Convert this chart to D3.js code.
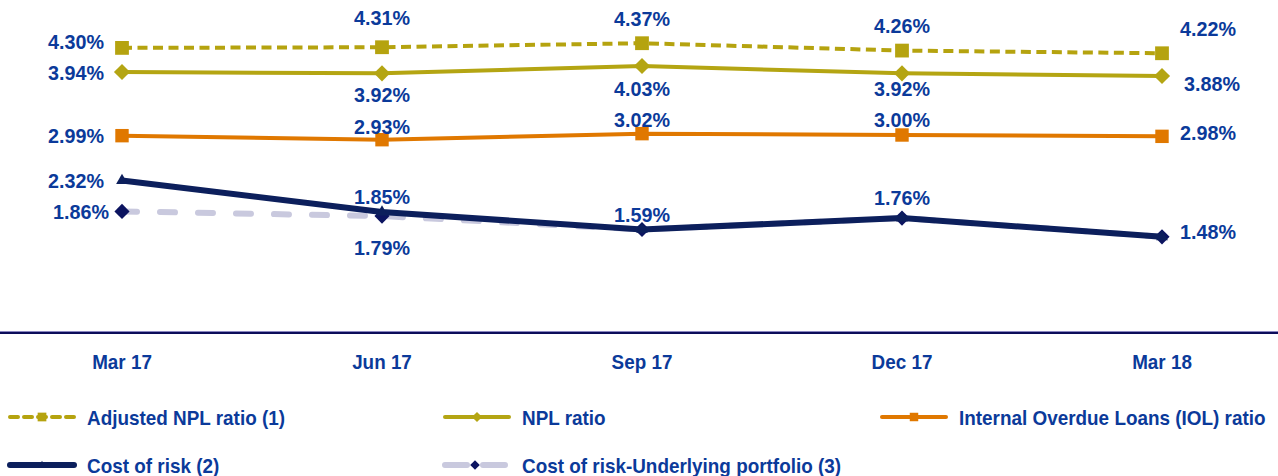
<!DOCTYPE html>
<html>
<head>
<meta charset="utf-8">
<script src="https://cdn.jsdelivr.net/npm/d3@7"></script>
<style>
  html, body { margin: 0; padding: 0; background: #fff; }
  svg { display: block; font-family: "Liberation Sans", Arial, sans-serif; font-weight: bold; }
</style>
</head>
<body>
<svg width="1278" height="476"></svg>
<script>
const categories = ["Mar 17", "Jun 17", "Sep 17", "Dec 17", "Mar 18"];
const adjustedNpl = [4.30, 4.31, 4.37, 4.26, 4.22];
const nplRatio = [3.94, 3.92, 4.03, 3.92, 3.88];
const iolRatio = [2.99, 2.93, 3.02, 3.00, 2.98];
const costOfRisk = [2.32, 1.85, 1.59, 1.76, 1.48];
const costUnderlying = [1.86, 1.79, 1.59, 1.76, 1.48];
// which points of the underlying series carry a printed label
const underlyingLabelled = [true, true, false, false, false];

const TEXT = "#0b3a9a";
const svg = d3.select("svg");
const x = d3.scalePoint().domain(categories).range([122, 1162]);
const y = d3.scaleLinear().domain([0, 5]).range([336, 1]);

// diamond = square turned 45 degrees
const markerPath = {
  diamond: a => d3.symbol().type(d3.symbolSquare).size(a)(),
  square: a => d3.symbol().type(d3.symbolSquare).size(a)(),
  triangle: a => d3.symbol().type(d3.symbolTriangle).size(a)()
};
const markerRot = { diamond: 45, square: 0, triangle: 0 };

// label offsets [dx, dy, anchor] per point
const series = [
  { name: "Cost of risk-Underlying portfolio (3)", values: costUnderlying, color: "#c9c9de", width: 6, dash: "15,23", cap: "round",
    legendDash: "22,16", marker: "diamond", markerColor: "#0c1460", markerSize: 115, labelled: underlyingLabelled,
    offsets: [[-13, 0, "end"], [0, 31, "middle"], [0,0,"middle"], [0,0,"middle"], [0,0,"middle"]] },
  { name: "Cost of risk (2)", values: costOfRisk, color: "#0c1f5c", width: 6,
    marker: "triangle", markerColor: "#0c1f5c", markerSize: 60,
    offsets: [[-18, 0, "end"], [0, -16, "middle"], [0, -15, "middle"], [0, -21, "middle"], [18, -5, "start"]] },
  { name: "Internal Overdue Loans (IOL) ratio", values: iolRatio, color: "#e07800", width: 4,
    marker: "square", markerColor: "#e07800", markerSize: 180,
    offsets: [[-18, 0, "end"], [0, -13, "middle"], [0, -14, "middle"], [0, -16, "middle"], [18, -4, "start"]] },
  { name: "NPL ratio", values: nplRatio, color: "#b4a513", width: 4,
    marker: "diamond", markerColor: "#b4a513", markerSize: 130,
    offsets: [[-18, 0, "end"], [0, 21, "middle"], [0, 22, "middle"], [0, 15, "middle"], [22, 7, "start"]] },
  { name: "Adjusted NPL ratio (1)", values: adjustedNpl, color: "#b5a30f", width: 4, dash: "10,5.5",
    legendDash: "8,6", marker: "square", markerColor: "#b5a30f", markerSize: 190,
    offsets: [[-18, -6, "end"], [0, -30, "middle"], [0, -25, "middle"], [0, -25, "middle"], [18, -25, "start"]] }
];

function label(sel, size) {
  return sel.attr("font-size", size).attr("fill", TEXT).attr("dy", "0.36em");
}

// axis line
const axisY = 333;
svg.append("line").attr("x1", 0).attr("x2", 1278).attr("y1", axisY - 1.5).attr("y2", axisY - 1.5)
  .attr("stroke", "#8a86c0").attr("stroke-width", 1);
svg.append("line").attr("x1", 0).attr("x2", 1278).attr("y1", axisY).attr("y2", axisY)
  .attr("stroke", "#0c0c5a").attr("stroke-width", 2);

// the original face is a condensed bold, so text is squeezed a little
svg.append("g").selectAll("text").data(categories).enter().append("text")
  .attr("transform", d => `translate(${x(d)},362) scale(0.92,1)`).attr("text-anchor", "middle")
  .call(label, 20.5).text(d => d);

const line = d3.line().x((d, i) => x(categories[i])).y(d => y(d));
const plot = svg.append("g");

series.forEach(s => {
  const g = plot.append("g");
  g.append("path").datum(s.values).attr("d", line).attr("fill", "none")
    .attr("stroke", s.color).attr("stroke-width", s.width)
    .attr("stroke-dasharray", s.dash || null).attr("stroke-linecap", s.cap || "butt")
    .attr("stroke-linejoin", "round");
  g.selectAll("path.m").data(s.values).enter().append("path").attr("class", "m")
    .attr("d", markerPath[s.marker](s.markerSize))
    .attr("transform", (d, i) => `translate(${x(categories[i])},${y(d)}) rotate(${markerRot[s.marker]})`)
    .attr("fill", s.markerColor);
});

series.forEach(s => {
  plot.append("g").selectAll("text").data(s.values).enter()
    .filter((d, i) => !s.labelled || s.labelled[i])
    .append("text")
    .attr("transform", (d, i) => `translate(${x(categories[i]) + s.offsets[i][0]},${y(d) + s.offsets[i][1]}) scale(0.94,1)`)
    .attr("text-anchor", (d, i) => s.offsets[i][2])
    .call(label, 21)
    .text(d => d.toFixed(2) + "%");
});

// legend
const legendItems = [
  { s: series[4], lx: 10, ly: 417 },
  { s: series[3], lx: 445, ly: 417 },
  { s: series[2], lx: 882, ly: 417 },
  { s: series[1], lx: 10, ly: 465 },
  { s: series[0], lx: 445, ly: 465 }
];
const legend = svg.append("g");
legendItems.forEach(({ s, lx, ly }) => {
  const g = legend.append("g").attr("transform", `translate(${lx},${ly})`);
  g.append("line").attr("x1", 0).attr("x2", s.cap ? 60 : 64).attr("y1", 0).attr("y2", 0)
    .attr("stroke", s.color).attr("stroke-width", s.width)
    .attr("stroke-dasharray", s.legendDash || null)
    .attr("stroke-linecap", "round");
  g.append("path").attr("d", markerPath[s.marker](s.markerSize * 0.4))
    .attr("transform", `translate(${s.cap ? 30 : 32},0) rotate(${markerRot[s.marker]})`).attr("fill", s.markerColor);
  g.append("text").attr("transform", "translate(77,0) scale(0.9,1)")
    .call(label, 21).text(s.name);
});
</script>
</body>
</html>
